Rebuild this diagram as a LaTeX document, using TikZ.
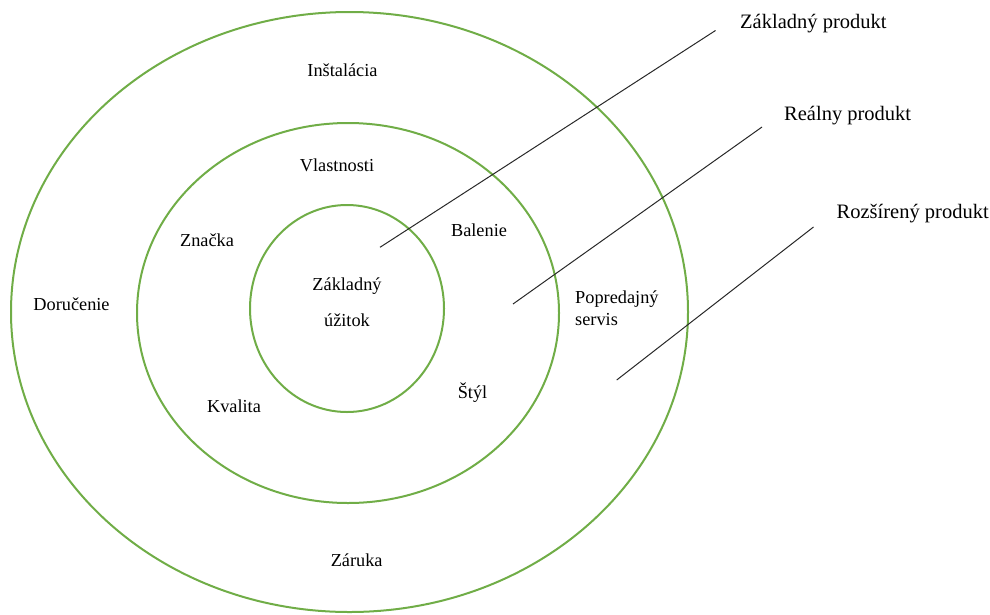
\documentclass[tikz,border=0pt]{standalone}
\usepackage{fontspec}
\setmainfont{Liberation Serif}
\definecolor{ringgreen}{RGB}{112,173,71}
\definecolor{leadgray}{RGB}{40,40,40}
\begin{document}
\begin{tikzpicture}[x=1pt,y=-1pt,
  ring/.style={draw=ringgreen,line width=2pt},
  leader/.style={draw=leadgray,line width=1pt},
  lbl/.style={inner sep=0pt,anchor=base,font=\fontsize{18.3}{22}\selectfont},
  biglbl/.style={inner sep=0pt,anchor=base west,font=\fontsize{20.5}{24}\selectfont}]
\useasboundingbox (0,0) rectangle (990,614);

% three product levels
\draw[ring] (349.5,312) ellipse [x radius=338.5, y radius=300];
\draw[ring] (348,313) ellipse [x radius=211, y radius=190];
\draw[ring] (347,308.5) ellipse [x radius=97, y radius=103.5];

% labels inside the rings (multi-line nodes sit on their last baseline)
\node[lbl] (inst) at (342.5,76.7) {Inštalácia};
\node[lbl] (vlas) at (337,171) {Vlastnosti};
\node[lbl] (znac) at (207,246.7) {Značka};
\node[lbl] (bal) at (479,236.7) {Balenie};
\node[lbl] (doru) at (71.5,310) {Doručenie};
\node[lbl,align=center] (uzit) at (347,326.7) {Základný\\[14pt]úžitok};
\node[lbl,anchor=base west,align=left] (serv) at (575,325.3) {Popredajný\\servis};
\node[lbl] (styl) at (472.5,398) {Štýl};
\node[lbl] (kval) at (234,412.3) {Kvalita};
\node[lbl] (zar) at (356.7,566) {Záruka};

% level names with leader lines
\node[biglbl] (zp) at (740,28.3) {Základný produkt};
\node[biglbl] (rp) at (784,120.5) {Reálny produkt};
\node[biglbl] (ep) at (836.5,218.3) {Rozšírený produkt};

\coordinate (zpa) at (380,247.3);
\coordinate (zpb) at (715.5,30.5);
\coordinate (rpa) at (513,304);
\coordinate (rpb) at (762,127);
\coordinate (epa) at (616.7,380);
\coordinate (epb) at (813.5,227);

\draw[leader] (zpa) -- (zpb);
\draw[leader] (rpa) -- (rpb);
\draw[leader] (epa) -- (epb);
\end{tikzpicture}
\end{document}
